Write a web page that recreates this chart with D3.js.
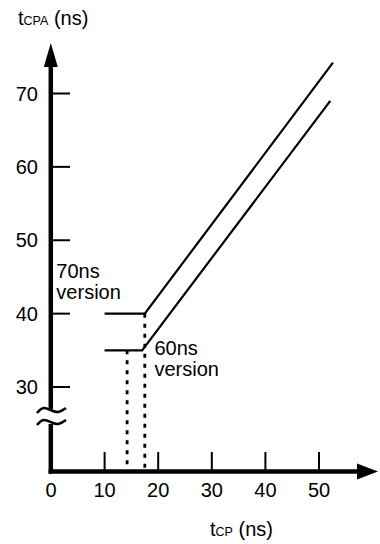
<!DOCTYPE html>
<html>
<head>
<meta charset="utf-8">
<script src="https://d3js.org/d3.v7.min.js"></script>
<style>
  body { margin: 0; background: #fff; }
  svg { display: block; font-family: "Liberation Sans", Arial, sans-serif; }
</style>
</head>
<body>
<svg id="canvas" width="380" height="544"></svg>
<script>
"use strict"

// tick values
const xTicks = [0, 10, 20, 30, 40, 50]
const yTicks = [30, 40, 50, 60, 70]

// the two curves, [tCP, tCPA]
const line70 = [[10, 40], [17.5, 40], [52.6, 74.2]]
const line60 = [[10, 35], [17.0, 35], [52.1, 69.0]]

// dotted drops from the knee down to the tCP axis, [tCP, tCPA]
const drops = [[14.2, 35], [17.5, 40]]

// curve labels
const labels = [
  { lines: ["70ns", "version"], x: 1.0, y: 44.8 },
  { lines: ["60ns", "version"], x: 19.3, y: 34.3 },
]

function draw() {
  const svg = d3.select("#canvas")
  const fs = 20

  const x = d3.scaleLinear().domain([0, 50]).range([51, 319])
  const y = d3.scaleLinear().domain([30, 70]).range([387, 93.5])

  const axisX = 50.8   // pixel of the tCPA axis
  const axisY = 471.5  // pixel of the tCP axis (broken scale below 30)

  // axes
  svg.append("line")
    .attr("x1", axisX).attr("x2", axisX)
    .attr("y1", 60).attr("y2", 409)
    .attr("stroke", "#000").attr("stroke-width", 4.5)
  svg.append("line")
    .attr("x1", axisX).attr("x2", axisX)
    .attr("y1", 424).attr("y2", axisY + 2.2)
    .attr("stroke", "#000").attr("stroke-width", 4.5)
  svg.append("line")
    .attr("x1", axisX - 2.2).attr("x2", 362)
    .attr("y1", axisY).attr("y2", axisY)
    .attr("stroke", "#000").attr("stroke-width", 4.5)

  // arrow heads
  svg.append("path")
    .attr("d", `M${axisX},43 L${axisX - 7},67 L${axisX + 7},67 Z`)
    .attr("fill", "#000")
  svg.append("path")
    .attr("d", `M378,${axisY} L357,${axisY - 8} L357,${axisY + 8} Z`)
    .attr("fill", "#000")

  // axis break
  const brk = d3.line().curve(d3.curveBasis)
  ;[410, 422].forEach(cy => {
    svg.append("path")
      .attr("d", brk([[37, cy + 3], [43, cy - 4], [52, cy + 1], [59, cy + 3], [66, cy - 2]]))
      .attr("fill", "none").attr("stroke", "#000").attr("stroke-width", 2.5)
  })

  // ticks
  svg.append("g").selectAll("line")
    .data(yTicks).enter().append("line")
      .attr("x1", axisX).attr("x2", 70)
      .attr("y1", d => y(d)).attr("y2", d => y(d))
      .attr("stroke", "#000").attr("stroke-width", 2)
  svg.append("g").selectAll("line")
    .data(xTicks.filter(d => d > 0)).enter().append("line")
      .attr("x1", d => x(d)).attr("x2", d => x(d))
      .attr("y1", 452).attr("y2", axisY)
      .attr("stroke", "#000").attr("stroke-width", 2)

  // tick labels
  svg.append("g").selectAll("text")
    .data(yTicks).enter().append("text")
      .attr("x", 38).attr("y", d => y(d) + 7)
      .attr("text-anchor", "end")
      .attr("font-size", fs)
      .text(d => d)
  svg.append("g").selectAll("text")
    .data(xTicks).enter().append("text")
      .attr("x", d => x(d)).attr("y", 497)
      .attr("text-anchor", "middle")
      .attr("font-size", fs)
      .text(d => d)

  // axis titles
  const yt = svg.append("text").attr("x", 18).attr("y", 25).attr("font-size", fs)
  yt.append("tspan").text("t")
  yt.append("tspan").attr("font-size", 12.5).text("CPA")
  yt.append("tspan").text(" (ns)")

  const xt = svg.append("text").attr("x", 210).attr("y", 536).attr("font-size", fs)
  xt.append("tspan").text("t")
  xt.append("tspan").attr("font-size", 12.5).text("CP")
  xt.append("tspan").text(" (ns)")

  // dotted drops
  svg.append("g").selectAll("line")
    .data(drops).enter().append("line")
      .attr("x1", d => x(d[0])).attr("x2", d => x(d[0]))
      .attr("y1", d => y(d[1])).attr("y2", axisY - 2)
      .attr("stroke", "#000").attr("stroke-width", 2.8)
      .attr("stroke-dasharray", "4,6")

  // curves
  const path = d3.line().x(d => x(d[0])).y(d => y(d[1]))
  ;[line70, line60].forEach(data => {
    svg.append("path")
      .attr("d", path(data))
      .attr("fill", "none").attr("stroke", "#000").attr("stroke-width", 2.2)
  })

  // curve labels
  labels.forEach(l => {
    const t = svg.append("text").attr("font-size", fs)
    l.lines.forEach((s, i) => {
      t.append("tspan")
        .attr("x", x(l.x)).attr("y", y(l.y) + i * 21)
        .text(s)
    })
  })
}

draw()
</script>
</body>
</html>
